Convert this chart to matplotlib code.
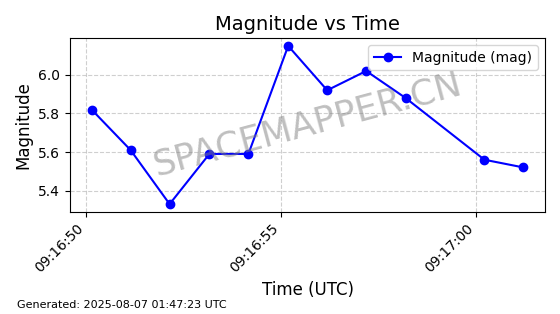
import matplotlib
matplotlib.use("Agg")
import matplotlib.pyplot as plt
import matplotlib.dates as mdates
import pandas as pd

times = ["2025-08-07 09:16:50.15", "2025-08-07 09:16:51.15", "2025-08-07 09:16:52.15",
         "2025-08-07 09:16:53.17", "2025-08-07 09:16:54.17", "2025-08-07 09:16:55.19",
         "2025-08-07 09:16:56.19", "2025-08-07 09:16:57.19", "2025-08-07 09:16:58.20",
         "2025-08-07 09:17:00.22", "2025-08-07 09:17:01.22"]
magnitudes = [5.82, 5.61, 5.33, 5.59, 5.59, 6.15, 5.92, 6.02, 5.88, 5.56, 5.52]

t = pd.to_datetime(times)

fig = plt.figure(figsize=(5.6, 3.14), dpi=100)
ax = fig.add_axes([70/560, 1 - 212/314, 475/560, 174/314])
ax.plot(t, magnitudes, 'o-', color='blue', label='Magnitude (mag)', markersize=6, linewidth=1.5)
ax.set_title('Magnitude vs Time', fontsize=14)
ax.set_xlabel('Time (UTC)', fontsize=12)
ax.set_ylabel('Magnitude', fontsize=12)
ax.grid(True, linestyle='--', alpha=0.6)
ax.xaxis.set_major_locator(mdates.SecondLocator(bysecond=range(0, 60, 5)))
ax.xaxis.set_major_formatter(mdates.DateFormatter('%H:%M:%S'))
ax.set_yticks([5.4, 5.6, 5.8, 6.0])
plt.setp(ax.get_xticklabels(), rotation=45, ha='right')
ax.legend(loc='upper right')
ax.text(0.5, 0.5, 'SPACEMAPPER.CN', transform=ax.transAxes, fontsize=25.5,
        color='gray', alpha=0.5, ha='center', va='center', rotation=15)
fig.text(17/560, 1 - 305/314, 'Generated: 2025-08-07 01:47:23 UTC', fontsize=8, ha='left', va='center')
fig.savefig('out.png', dpi=100)
